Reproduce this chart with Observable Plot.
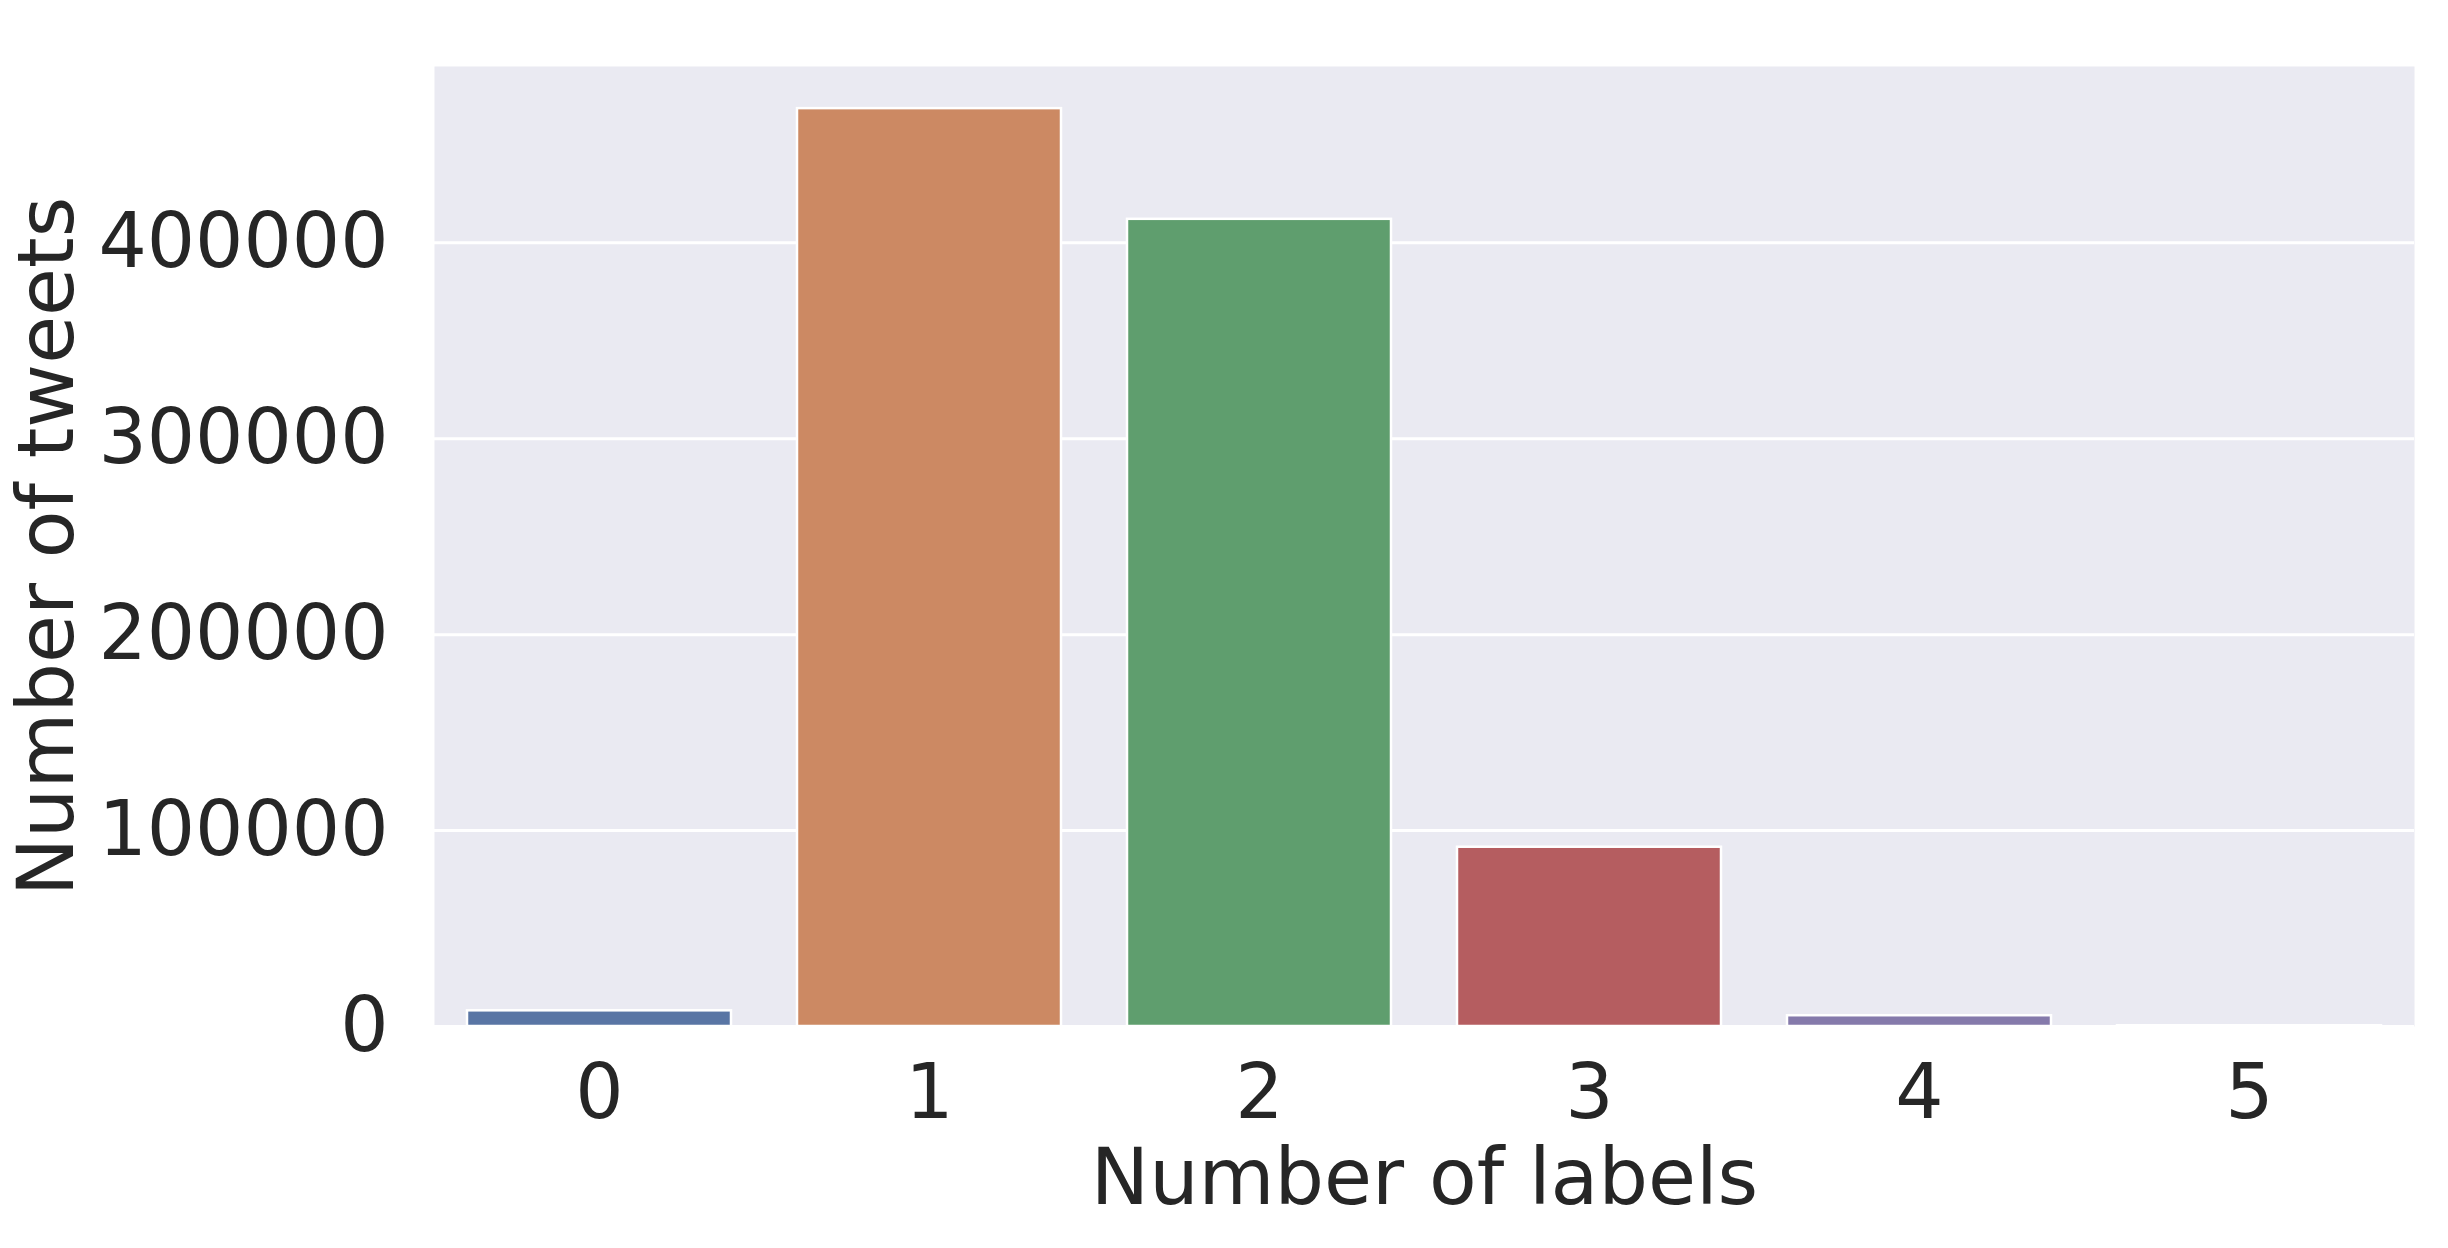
<!DOCTYPE html>
<html>
<head>
<meta charset="utf-8">
<script src="https://cdn.jsdelivr.net/npm/d3@7"></script>
<script src="https://cdn.jsdelivr.net/npm/@observablehq/plot@0.6"></script>
<style>
  html, body { margin: 0; padding: 0; background: #ffffff; }
  #chart svg { display: block; }
</style>
</head>
<body>
<div id="chart"></div>
<script>
// Data
const labelCounts = ["0", "1", "2", "3", "4", "5"];
const tweetCounts = [8000, 468500, 412000, 91500, 5500, 400];
const barColors = ["#5975a4", "#cc8963", "#5f9e6e", "#b55d60", "#857aab", "#8d7866"];
const yTicks = [0, 100000, 200000, 300000, 400000];
const xLabel = "Number of labels";
const yLabel = "Number of tweets";

const data = labelCounts.map((k, i) => ({k, v: tweetCounts[i]}));

const chart = Plot.plot({
  width: 2448,
  height: 1248,
  marginLeft: 434,
  marginRight: 34,
  marginTop: 66,
  marginBottom: 222,
  style: {
    fontFamily: "'DejaVu Sans', sans-serif",
    fontSize: "76px",
    color: "#262626",
    background: "#ffffff"
  },
  x: {
    domain: labelCounts,
    paddingInner: 0.2,
    paddingOuter: 0.1,
    label: null
  },
  y: {
    domain: [0, 490000],
    label: null
  },
  color: {domain: labelCounts, range: barColors},
  marks: [
    Plot.frame({fill: "#eaeaf2", stroke: null}),
    Plot.gridY(yTicks, {stroke: "#ffffff", strokeOpacity: 1, strokeWidth: 3}),
    Plot.barY(data, {x: "k", y: "v", fill: "k", stroke: "#ffffff", strokeWidth: 2.5}),
    Plot.axisX({
      tickSize: 0,
      tickPadding: 38,
      fontSize: 76,
      label: null
    }),
    Plot.axisX({
      ticks: [],
      fontSize: 78,
      label: xLabel,
      labelAnchor: "center",
      labelOffset: 177,
      labelArrow: "none"
    }),
    Plot.axisY({
      ticks: yTicks,
      tickFormat: d3.format("d"),
      tickSize: 0,
      tickPadding: 46,
      fontSize: 76,
      label: null
    }),
    Plot.axisY({
      ticks: [],
      fontSize: 78,
      label: yLabel,
      labelAnchor: "center",
      labelOffset: 417,
      labelArrow: "none"
    })
  ]
});
document.getElementById("chart").appendChild(chart);
</script>
</body>
</html>
